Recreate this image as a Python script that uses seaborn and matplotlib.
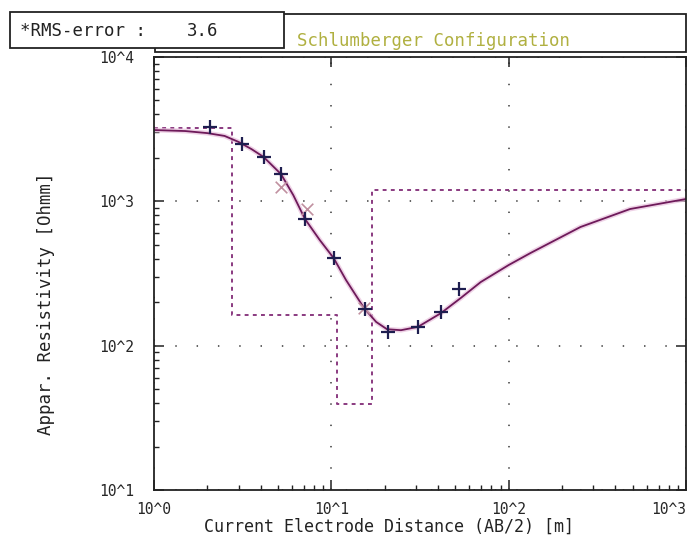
import numpy as np
import pandas as pd
import seaborn as sns
import matplotlib.pyplot as plt
from matplotlib.patches import Rectangle

# fitted apparent-resistivity curve (AB/2 [m], rho_a [Ohmm])
curve_ab2 = [1, 1.5, 2, 2.5, 3, 3.55, 4.15, 5.2, 6.1, 7.1, 8.6, 10.3, 12.1, 15.3,
             17.9, 20.6, 24.7, 30.8, 41.5, 53.7, 69.6, 100, 133, 254, 484, 1000]
curve_rho = [3120, 3070, 2970, 2840, 2580, 2300, 2030, 1545, 1105, 755, 540, 405, 285, 182,
             146, 130, 128, 135, 168, 214, 276, 362, 439, 664, 885, 1038]

# measured field data
meas_ab2 = [2.06, 3.12, 4.15, 5.17, 7.14, 10.3, 15.5, 20.9, 30.9, 41.5, 52.4]
meas_rho = [3270, 2500, 2030, 1545, 750, 405, 179, 124, 135, 171, 247]

# masked data points
mask_ab2 = [5.17, 7.3, 15.3]
mask_rho = [1256, 880, 182]

# layered model (steps)
model_depth = [1, 2.74, 10.7, 16.9, 1000]
model_rho = [3200, 163, 39.4, 1200, 1200]

tick_vals = [1, 10, 100, 1000]
xtick_labels = ['10^0', '10^1', '10^2', '10^3']
ytick_vals = [10, 100, 1000, 10000]
ytick_labels = ['10^1', '10^2', '10^3', '10^4']

sns.set_style("ticks")
plt.rcParams['font.family'] = ['DejaVu Sans Mono']

df_curve = pd.DataFrame({'ab2': curve_ab2, 'rho': curve_rho})
df_meas = pd.DataFrame({'ab2': meas_ab2, 'rho': meas_rho})
df_mask = pd.DataFrame({'ab2': mask_ab2, 'rho': mask_rho})
df_model = pd.DataFrame({'depth': model_depth, 'rho': model_rho})

fig = plt.figure(figsize=(6.99, 5.40), dpi=100)
ax = fig.add_axes([0.2203, 0.0926, 0.7611, 0.8018])
ax.set_xscale('log')
ax.set_yscale('log')

# dotted decade grid
ax.grid(which='major', linestyle=(0, (0.8, 11)), color='#555555', lw=1.3)

sns.lineplot(data=df_model, x='depth', y='rho', ax=ax, drawstyle='steps-post',
             color='#8a3a80', lw=1.4, linestyle=(0, (2, 2.2)), estimator=None, sort=False)
# soft halo under the fitted curve
sns.lineplot(data=df_curve, x='ab2', y='rho', ax=ax, color='#e8c0dc', lw=3.5,
             estimator=None, sort=False, alpha=0.7)
sns.lineplot(data=df_curve, x='ab2', y='rho', ax=ax, color='#6e1a5a', lw=1.3,
             estimator=None, sort=False)
sns.scatterplot(data=df_mask, x='ab2', y='rho', ax=ax, marker='x', s=70,
                color='#c090a0', linewidth=1.2, zorder=4)
sns.scatterplot(data=df_meas, x='ab2', y='rho', ax=ax, marker='+', s=110,
                color='#1e1e50', linewidth=1.6, zorder=5)

ax.set_xlim(1, 1000)
ax.set_ylim(10, 10000)
ax.set_xticks(tick_vals)
ax.set_xticklabels(xtick_labels)
ax.set_yticks(ytick_vals)
ax.set_yticklabels(ytick_labels)
ax.set_xlabel('')
ax.set_ylabel('')
ax.get_xticklabels()[-1].set_horizontalalignment('right')

ax.tick_params(which='both', direction='in', top=True, right=True, color='#222222')
ax.tick_params(which='major', length=7.5, width=1.1, labelsize=10.5)
ax.tick_params(which='minor', length=3.8, width=1.0, top=False, right=False)
ax.tick_params(axis='y', which='major', pad=14)
ax.tick_params(axis='x', which='major', pad=9)
for sp in ax.spines.values():
    sp.set_visible(True)
    sp.set_linewidth(1.3)
    sp.set_color('#222222')

fig.text(0.556, 0.025, 'Current Electrode Distance (AB/2) [m]', ha='center', va='center',
         fontsize=12, color='#222222')
fig.text(0.066, 0.437, 'Appar. Resistivity [Ohmm]', ha='center', va='center',
         rotation=90, fontsize=12.5, color='#222222')

# header boxes
fig.patches.append(Rectangle((0.2217, 0.9037), 0.7597, 0.0704, transform=fig.transFigure,
                             facecolor='white', edgecolor='#222222', lw=1.3, zorder=1))
fig.patches.append(Rectangle((0.0143, 0.9111), 0.392, 0.0667, transform=fig.transFigure,
                             facecolor='white', edgecolor='#222222', lw=1.3, zorder=2))
fig.text(0.029, 0.943, '*RMS-error :', ha='left', va='center', fontsize=12.5,
         color='#222222', zorder=3)
fig.text(0.268, 0.943, '3.6', ha='left', va='center', fontsize=12.5,
         color='#222222', zorder=3)
fig.text(0.425, 0.924, 'Schlumberger Configuration', ha='left', va='center',
         fontsize=12.5, color='#b0b040', zorder=3)

fig.savefig('out.png', dpi=100)
